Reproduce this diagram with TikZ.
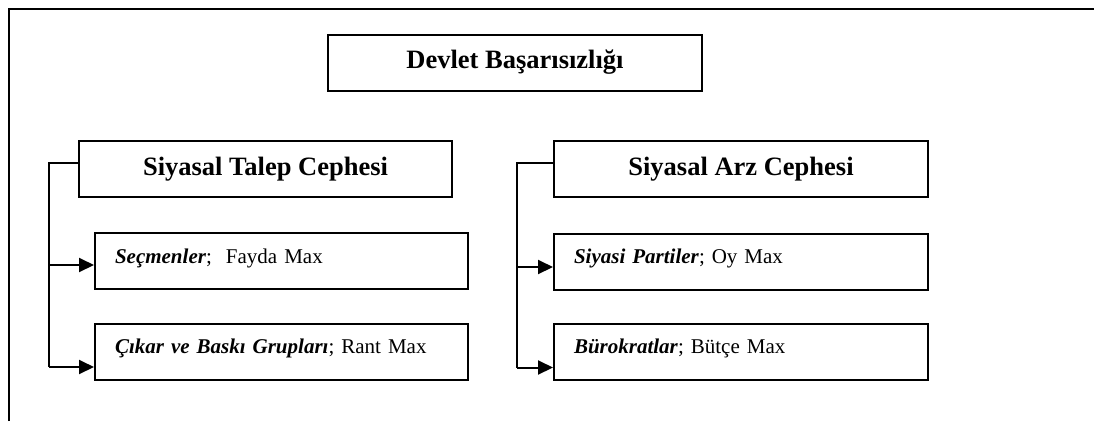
\documentclass[tikz,border=0pt]{standalone}
\usepackage{fontspec}
\setmainfont{Liberation Serif}
\usetikzlibrary{arrows.meta}
\begin{document}
\begin{tikzpicture}[x=1pt,y=-1pt,
  frameline/.style={line width=2.4pt},
  headbox/.style={draw, line width=2pt, minimum height=56pt, inner sep=0pt,
    font=\fontsize{26.5}{30}\selectfont\bfseries},
  itembox/.style={draw, line width=2pt, minimum height=56pt, text width=333pt,
    inner xsep=20pt, inner ysep=0pt, align=left, font=\fontsize{21}{24}\selectfont},
  link/.style={line width=2pt},
  arr/.style={line width=2pt, -{Triangle[length=15pt,width=14pt]}}]
  \useasboundingbox (0,0) rectangle (1094,421);

  % outer frame: top and left edges
  \draw[frameline] (9,421) -- (9,9) -- (1094,9);

  % heading
  \node[headbox, minimum width=374pt] (devlet) at (515,62.5) {Devlet Başarısızlığı};

  % two sides
  \node[headbox, minimum width=373pt] (talep) at (265.5,169) {Siyasal Talep Cephesi};
  \node[headbox, minimum width=374pt] (arz) at (741,169) {Siyasal Arz Cephesi};

  % actors of the demand side
  \node[itembox] (secmen) at (281.5,261) {\textbf{\textit{Seçmenler}};\ \ Fayda Max\strut\vspace{5pt}};
  \node[itembox] (cikar) at (281.5,351.5) {\textbf{\textit{Çıkar ve Baskı Grupları}}; Rant Max\strut\vspace{5pt}};

  % actors of the supply side
  \node[itembox, text width=334pt] (parti) at (741,261.5) {\textbf{\textit{Siyasi Partiler}}; Oy Max\strut\vspace{5pt}};
  \node[itembox, text width=334pt] (burokrat) at (741,351.5) {\textbf{\textit{Bürokratlar}}; Bütçe Max\strut\vspace{5pt}};

  % bracket lines
  \coordinate (lbus) at (49,0);
  \coordinate (rbus) at (517,0);

  \draw[link] ([yshift=6pt]talep.west) -| ([yshift=-15.5pt]cikar.west -| lbus);
  \draw[arr] ([yshift=-4pt]secmen.west -| lbus) -- ([yshift=-4pt]secmen.west);
  \draw[arr] ([yshift=-15.5pt]cikar.west -| lbus) -- ([yshift=-15.5pt]cikar.west);

  \draw[link] ([yshift=6pt]arz.west) -| ([yshift=-16pt]burokrat.west -| rbus);
  \draw[arr] ([yshift=-5.5pt]parti.west -| rbus) -- ([yshift=-5.5pt]parti.west);
  \draw[arr] ([yshift=-16pt]burokrat.west -| rbus) -- ([yshift=-16pt]burokrat.west);
\end{tikzpicture}
\end{document}
